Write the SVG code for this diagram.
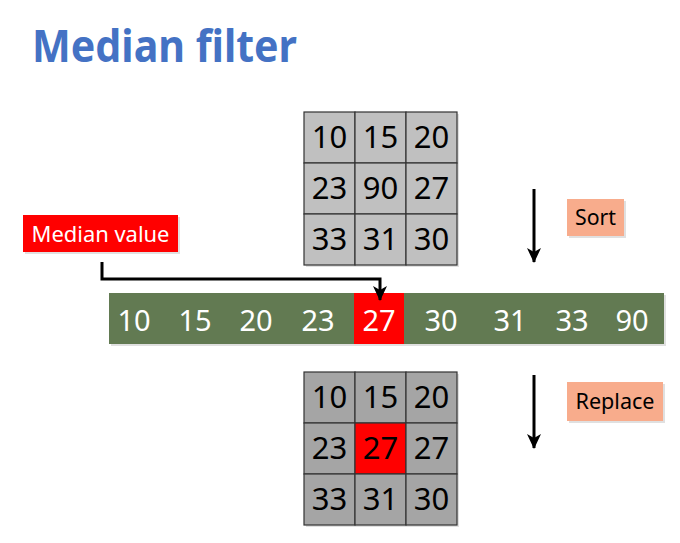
<svg xmlns="http://www.w3.org/2000/svg" width="680" height="543" viewBox="0 0 680 543">
<style>
.t{font-family:"Noto Sans","Open Sans",sans-serif}
.g1{fill:#c0c0c0;stroke:#333;stroke-width:1.2}
.g2{fill:#a5a5a5;stroke:#333;stroke-width:1.2}
.n{font-family:"Noto Sans","Open Sans",sans-serif;font-size:31px;fill:#000;text-anchor:middle}
.w{font-family:"Noto Sans","Open Sans",sans-serif;font-size:29px;fill:#fff;text-anchor:middle}
.c{stroke:#000;stroke-width:3;fill:none}
.sh{fill:#000;opacity:0.12}
</style>
<defs>
<marker id="ah2" markerWidth="16" markerHeight="16" refX="14" refY="8" orient="auto" markerUnits="userSpaceOnUse" viewBox="0 0 16 16">
<path d="M0,1 L15,8 L0,15 L4,8 Z" fill="#000"/>
</marker>
</defs>
<rect width="680" height="543" fill="#fff"/>
<g id="title"><text class="t" x="32" y="62" font-size="44" font-weight="bold" fill="#4472c4" textLength="265" lengthAdjust="spacingAndGlyphs">Median filter</text></g>

<g id="grid-top">
<rect class="sh" x="306" y="114" width="153" height="153"/>
<rect class="g1" x="304" y="112" width="51" height="51"/><rect class="g1" x="355" y="112" width="51" height="51"/><rect class="g1" x="406" y="112" width="51" height="51"/>
<rect class="g1" x="304" y="163" width="51" height="51"/><rect class="g1" x="355" y="163" width="51" height="51"/><rect class="g1" x="406" y="163" width="51" height="51"/>
<rect class="g1" x="304" y="214" width="51" height="51"/><rect class="g1" x="355" y="214" width="51" height="51"/><rect class="g1" x="406" y="214" width="51" height="51"/>
<text class="n" x="329.5" y="148">10</text><text class="n" x="380.5" y="148">15</text><text class="n" x="431.5" y="148">20</text>
<text class="n" x="329.5" y="199">23</text><text class="n" x="380.5" y="199">90</text><text class="n" x="431.5" y="199">27</text>
<text class="n" x="329.5" y="250">33</text><text class="n" x="380.5" y="250">31</text><text class="n" x="431.5" y="250">30</text>
</g>

<g id="median-label">
<rect class="sh" x="25" y="217" width="155" height="37"/>
<rect x="23" y="215" width="155" height="37" fill="#ff0000"/>
<text class="t" x="100.5" y="242" font-size="22" fill="#fff" text-anchor="middle" textLength="138" lengthAdjust="spacingAndGlyphs">Median value</text>
</g>

<g id="sort-label">
<rect class="sh" x="569" y="201" width="57" height="37"/>
<rect x="567" y="199" width="57" height="37" fill="#f8ac8c"/>
<text class="t" x="595.5" y="225" font-size="22" fill="#000" text-anchor="middle" textLength="41" lengthAdjust="spacingAndGlyphs">Sort</text>
</g>

<g id="replace-label">
<rect class="sh" x="569" y="384" width="96" height="39"/>
<rect x="567" y="382" width="96" height="39" fill="#f8ac8c"/>
<text class="t" x="615" y="409" font-size="22" fill="#000" text-anchor="middle" textLength="79" lengthAdjust="spacingAndGlyphs">Replace</text>
</g>

<g id="sorted-bar">
<rect class="sh" x="111" y="295" width="555" height="51"/>
<rect x="109" y="293" width="555" height="51" fill="#627a52"/>
<rect x="354" y="293" width="50" height="51" fill="#ff0000"/>
<text class="w" x="134" y="331">10</text><text class="w" x="195" y="331">15</text><text class="w" x="256" y="331">20</text>
<text class="w" x="318" y="331">23</text><text class="w" x="379" y="331">27</text><text class="w" x="441" y="331">30</text>
<text class="w" x="510" y="331">31</text><text class="w" x="572" y="331">33</text><text class="w" x="632" y="331">90</text>
</g>

<g id="grid-bottom">
<rect class="sh" x="306" y="374" width="153" height="153"/>
<rect class="g2" x="304" y="372" width="51" height="51"/><rect class="g2" x="355" y="372" width="51" height="51"/><rect class="g2" x="406" y="372" width="51" height="51"/>
<rect class="g2" x="304" y="423" width="51" height="51"/><rect x="355" y="423" width="51" height="51" fill="#ff0000" stroke="#333" stroke-width="1.2"/><rect class="g2" x="406" y="423" width="51" height="51"/>
<rect class="g2" x="304" y="474" width="51" height="51"/><rect class="g2" x="355" y="474" width="51" height="51"/><rect class="g2" x="406" y="474" width="51" height="51"/>
<text class="n" x="329.5" y="408">10</text><text class="n" x="380.5" y="408">15</text><text class="n" x="431.5" y="408">20</text>
<text class="n" x="329.5" y="459">23</text><text class="n" x="380.5" y="459" fill="#fff">27</text><text class="n" x="431.5" y="459">27</text>
<text class="n" x="329.5" y="510">33</text><text class="n" x="380.5" y="510">31</text><text class="n" x="431.5" y="510">30</text>
</g>

<g id="connectors">
<path class="c" d="M102,262 V279 H380 V300" marker-end="url(#ah2)"/>
<path class="c" d="M534,189 V262" stroke-width="2.5" marker-end="url(#ah2)"/>
<path class="c" d="M534,375 V448" stroke-width="2.5" marker-end="url(#ah2)"/>
</g>
</svg>
